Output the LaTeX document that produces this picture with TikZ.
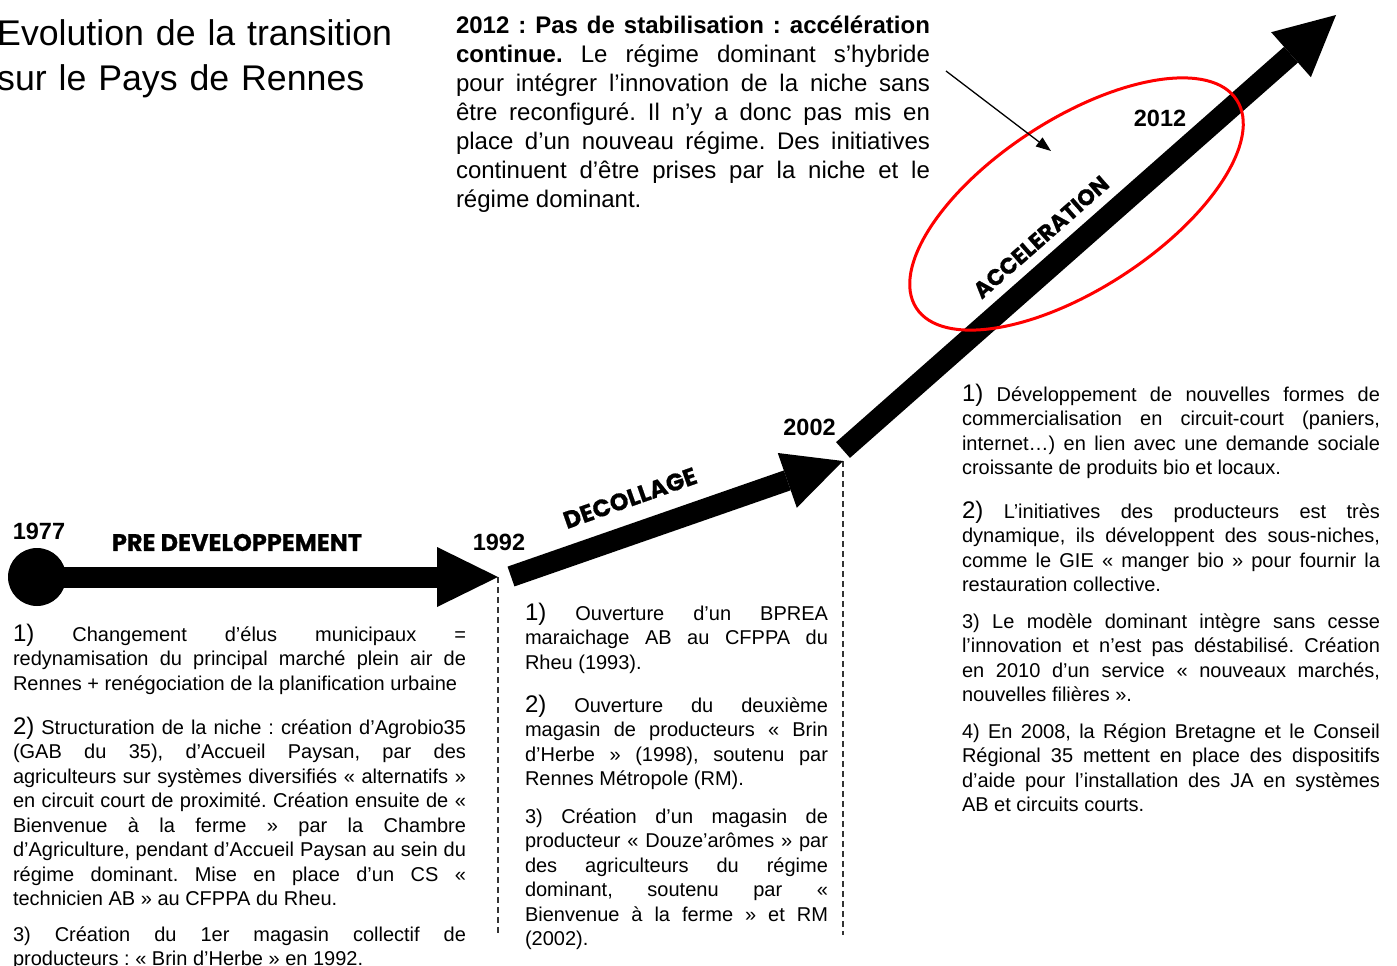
\documentclass[tikz,border=0pt]{standalone}
\usepackage{fontspec}
\setmainfont{Liberation Sans}
\newfontfamily\phasefont{Poppins}[BoldFeatures={FakeBold=0.7}]
\usetikzlibrary{arrows.meta}
\tolerance=10000
\hyphenpenalty=10000
\exhyphenpenalty=10000
\frenchspacing
\newcommand\bignum[1]{{\fontsize{24}{24.5}\selectfont #1}}
\tikzset{
  body/.style={anchor=base west, inner sep=0pt, outer sep=0pt, align=justify,
    font=\fontsize{20}{24.5}\selectfont\frenchspacing},
  toptext/.style={anchor=base west, inner sep=0pt, outer sep=0pt, align=justify,
    font=\fontsize{24}{29}\selectfont\frenchspacing},
  year/.style={font=\fontsize{23.5}{28}\selectfont\bfseries, inner sep=0pt},
  phase/.style={font=\fontsize{24}{30}\selectfont\phasefont\bfseries, inner sep=0pt},
  fatarrow/.style 2 args={line width=21pt, -{Triangle[length=#1pt, width=#2pt, line width=0pt]}},
  dashline/.style={line width=1.4pt, dash pattern=on 6pt off 4pt, black!80},
  thinarrow/.style={line width=1.3pt, -{Triangle[length=15pt, width=11pt]}},
  ring/.style={draw=red, line width=3pt}
}
\begin{document}
\begin{tikzpicture}[x=1pt,y=-1pt]
\useasboundingbox (0,0) rectangle (1397,966);

% title
\node[anchor=base west, inner sep=0pt, text width=430pt, align=left,
  font=\fontsize{35.7}{44}\selectfont] (title) at (-3,46)
  {Evolution de la transition\\sur le Pays de Rennes};

% top description
\node[toptext, text width=474pt] (top) at (456,34)
  {\textbf{2012 : Pas de stabilisation : accélération\linebreak continue.} Le régime dominant s’hybride\linebreak pour intégrer l’innovation de la niche sans\linebreak être reconfiguré. Il n’y a donc pas mis en\linebreak place d’un nouveau régime. Des initiatives\linebreak continuent d’être prises par la niche et le\linebreak régime dominant.};

% timeline coordinates
\coordinate (p77) at (37,577);
\coordinate (p92) at (498,577);
\coordinate (s92) at (511,576.5);
\coordinate (p02) at (843,461);
\coordinate (s02) at (843,450);
\coordinate (p12) at (1336,15);
\coordinate (b92) at (498,935);
\coordinate (b02) at (843,935);
\coordinate (a0) at (946,71);
\coordinate (a1) at (1051,151);

% dashed separators
\draw[dashline] (p92) -- (b92);
\draw[dashline] (p02) -- (b02);

% fat arrows
\fill (p77) circle[radius=29];
\draw[fatarrow={61}{60}] (p77) -- (p92);
\draw[fatarrow={59}{58}] (s92) -- (p02);
\draw[fatarrow={60}{60}] (s02) -- (p12);

% red ellipse
\draw[ring, rotate around={33:(1076.5,204)}] (1076.5,204) ellipse[x radius=191, y radius=85];

% thin arrow
\draw[thinarrow] (a0) -- (a1);

% year labels
\node[year] (y77) at (39,531) {1977};
\node[year] (y92) at (499,542) {1992};
\node[year] (y02) at (809.5,427.5) {2002};
\node[year] (y12) at (1160,118) {2012};

% phase labels
\node[phase] (ph1) at (237,542.5) {PRE DEVELOPPEMENT};
\node[phase, rotate=19.4] (ph2) at (630,498) {DECOLLAGE};
\node[phase, rotate=41.4, font=\fontsize{22.5}{28}\selectfont\phasefont\bfseries] (ph3) at (1041,237) {ACCELERATION};

% left column
\node[body, text width=453pt] (l1) at (13,641)
  {\bignum{1)} Changement d’élus municipaux =\linebreak redynamisation du principal marché plein air de\linebreak Rennes + renégociation de la planification urbaine};
\node[body, text width=453pt] (l2) at (13,734)
  {\bignum{2)} Structuration de la niche : création d’Agrobio35\linebreak (GAB du 35), d’Accueil Paysan, par des\linebreak agriculteurs sur systèmes diversifiés « alternatifs »\linebreak en circuit court de proximité. Création ensuite de «\linebreak Bienvenue à la ferme » par la Chambre\linebreak d’Agriculture, pendant d’Accueil Paysan au sein du\linebreak régime dominant. Mise en place d’un CS «\linebreak technicien AB » au CFPPA du Rheu.};
\node[body, text width=453pt] (l3) at (13,941)
  {3) Création du 1er magasin collectif de\linebreak producteurs : « Brin d’Herbe » en 1992.};

% middle column
\node[body, text width=303pt] (m1) at (525,620)
  {\bignum{1)} Ouverture d’un BPREA\linebreak maraichage AB au CFPPA du\linebreak Rheu (1993).};
\node[body, text width=303pt] (m2) at (525,712)
  {\bignum{2)} Ouverture du deuxième\linebreak magasin de producteurs « Brin\linebreak d’Herbe » (1998), soutenu par\linebreak Rennes Métropole (RM).};
\node[body, text width=303pt] (m3) at (525,823)
  {3) Création d’un magasin de\linebreak producteur « Douze’arômes » par\linebreak des agriculteurs du régime\linebreak dominant, soutenu par «\linebreak Bienvenue à la ferme » et RM\linebreak (2002).};

% right column
\node[body, text width=418pt] (r1) at (962,401)
  {\bignum{1)} Développement de nouvelles formes de\linebreak commercialisation en circuit-court (paniers,\linebreak internet…) en lien avec une demande sociale\linebreak croissante de produits bio et locaux.};
\node[body, text width=418pt] (r2) at (962,518)
  {\bignum{2)} L’initiatives des producteurs est très\linebreak dynamique, ils développent des sous-niches,\linebreak comme le GIE « manger bio » pour fournir la\linebreak restauration collective.};
\node[body, text width=418pt] (r3) at (962,628)
  {3) Le modèle dominant intègre sans cesse\linebreak l’innovation et n’est pas déstabilisé. Création\linebreak en 2010 d’un service « nouveaux marchés,\linebreak nouvelles filières ».};
\node[body, text width=418pt] (r4) at (962,738)
  {4) En 2008, la Région Bretagne et le Conseil\linebreak Régional 35 mettent en place des dispositifs\linebreak d’aide pour l’installation des JA en systèmes\linebreak AB et circuits courts.};
\end{tikzpicture}
\end{document}
